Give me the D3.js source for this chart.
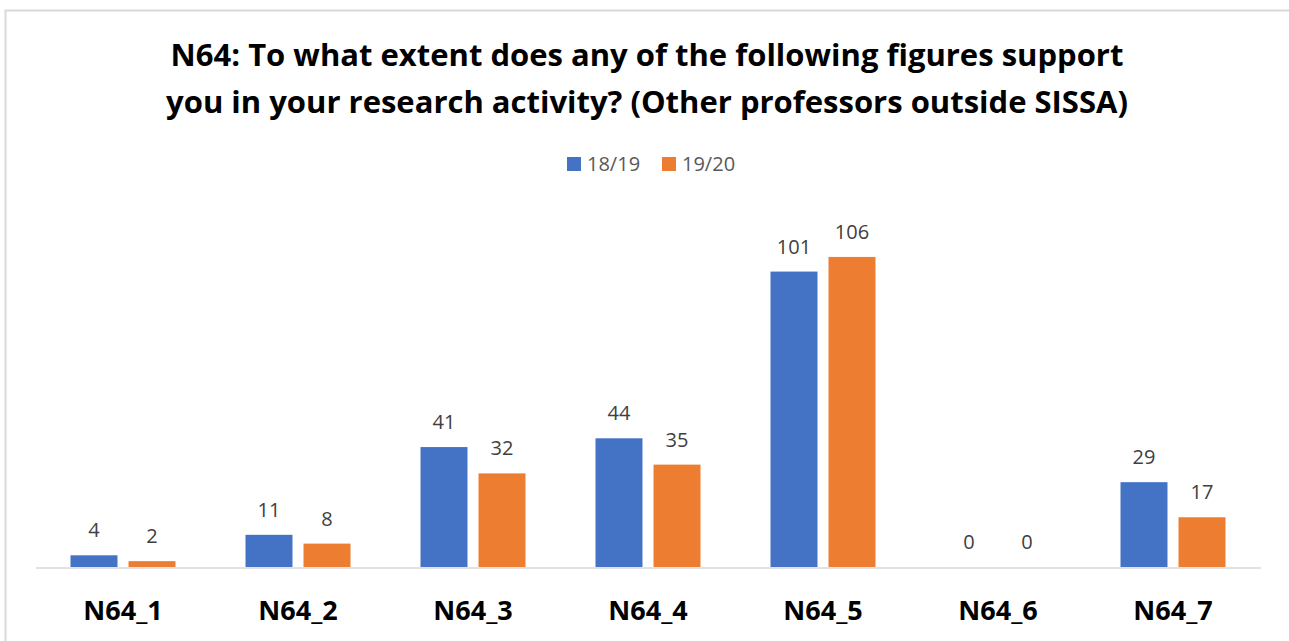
<!DOCTYPE html>
<html lang="en">
<meta charset="UTF-8">
<title>N64 chart</title>
<script src="https://d3js.org/d3.v7.min.js"></script>
<style>
html, body { margin: 0; padding: 0; background: #fff; }
body { font-family: "Open Sans", sans-serif; }
</style>
<body>
<div id="chart"></div>
<script>
// data
var categories = ["N64_1", "N64_2", "N64_3", "N64_4", "N64_5", "N64_6", "N64_7"];
var seriesNames = ["18/19", "19/20"];
var values1819 = [4, 11, 41, 44, 101, 0, 29];
var values1920 = [2, 8, 32, 35, 106, 0, 17];
var titleLines = [
  "N64: To what extent does any of the following figures support",
  "you in your research activity? (Other professors outside SISSA)"
];

var colors = ["#4472C4", "#ED7D31"];
var W = 1289, H = 641;

var svg = d3.select("#chart")
  .append("svg")
    .attr("width", W)
    .attr("height", H);

// chart frame (only top and left visible, rest runs off the page)
svg.append("rect")
  .attr("x", 5.5).attr("y", 10.5)
  .attr("width", W + 20).attr("height", H + 20)
  .attr("fill", "#fff")
  .attr("stroke", "#d9d9d9")
  .attr("stroke-width", 2);

// title
var title = svg.append("g");
titleLines.forEach(function(line, i) {
  title.append("text")
    .attr("x", 647)
    .attr("y", 66 + i * 47)
    .attr("text-anchor", "middle")
    .style("font-weight", "bold")
    .style("font-size", "31px")
    .attr("fill", "#000")
    .text(line);
});

// legend
var legend = svg.append("g");
var legendX = [567, 662];
seriesNames.forEach(function(name, i) {
  legend.append("rect")
    .attr("x", legendX[i]).attr("y", 157)
    .attr("width", 14).attr("height", 14)
    .attr("fill", colors[i]);
  legend.append("text")
    .attr("x", legendX[i] + 20).attr("y", 171)
    .style("font-size", "20px")
    .attr("fill", "#595959")
    .text(name);
});

// scales
var x = d3.scaleBand()
  .domain(categories)
  .range([35.5, 1260.5]);

var xSub = d3.scaleBand()
  .domain(seriesNames)
  .range([35, 140])
  .paddingInner(0.19);

var y = d3.scaleLinear()
  .domain([0, 120])
  .range([567, 216]);

var rows = categories.map(function(c, i) {
  return {cat: c, vals: [values1819[i], values1920[i]]};
});

var groups = svg.selectAll(".grp")
  .data(rows)
  .enter()
  .append("g")
    .attr("class", "grp")
    .attr("transform", function(d) { return "translate(" + x(d.cat) + ",0)"; });

groups.selectAll("rect")
  .data(function(d) { return d.vals.map(function(v, i) { return {s: seriesNames[i], v: v, i: i}; }); })
  .enter()
  .append("rect")
    .attr("x", function(d) { return xSub(d.s); })
    .attr("y", function(d) { return y(d.v); })
    .attr("width", xSub.bandwidth())
    .attr("height", function(d) { return y(0) - y(d.v); })
    .attr("fill", function(d) { return colors[d.i]; });

// value labels
groups.selectAll(".val")
  .data(function(d) { return d.vals.map(function(v, i) { return {s: seriesNames[i], v: v}; }); })
  .enter()
  .append("text")
    .attr("class", "val")
    .attr("x", function(d) { return xSub(d.s) + xSub.bandwidth() / 2; })
    .attr("y", function(d) { return y(d.v) - 18; })
    .attr("text-anchor", "middle")
    .style("font-size", "20px")
    .attr("fill", "#404040")
    .text(function(d) { return d.v; });

// x axis
var xAxis = svg.append("g")
  .attr("transform", "translate(0,567.5)")
  .call(d3.axisBottom(x).tickSize(0).tickPadding(33));

xAxis.select(".domain")
  .attr("stroke", "#d9d9d9")
  .attr("stroke-width", 1.5);

xAxis.selectAll("text")
  .style("font-family", "'Open Sans', sans-serif")
  .style("font-size", "27px")
  .style("font-weight", "bold")
  .attr("fill", "#000");
</script>
</body>
</html>
